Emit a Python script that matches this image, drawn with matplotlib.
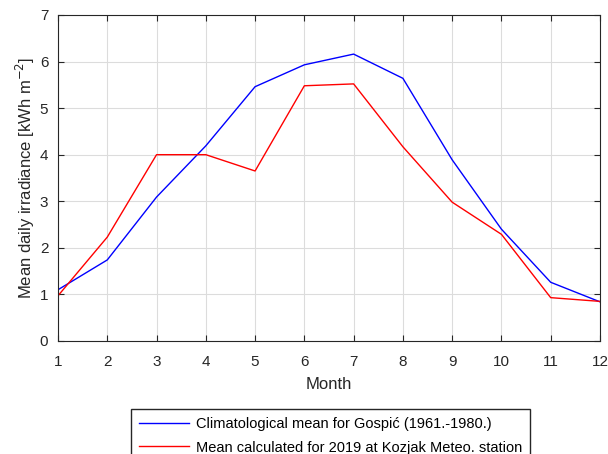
import numpy as np
import matplotlib.pyplot as plt

plt.rcParams['font.family'] = ['Liberation Sans', 'DejaVu Sans']

# monthly mean daily irradiance (kWh m^-2)
months = np.arange(1, 13)
clim_gospic = [1.10, 1.74, 3.09, 4.19, 5.46, 5.93, 6.16, 5.64, 3.89, 2.40, 1.26, 0.84]
kozjak_2019 = [0.97, 2.23, 4.00, 4.00, 3.65, 5.48, 5.52, 4.17, 2.98, 2.29, 0.93, 0.85]

lab_clim = 'Climatological mean for Gospić (1961.-1980.)'
lab_koz = 'Mean calculated for 2019 at Kozjak Meteo. station'

fig = plt.figure(figsize=(6.08, 4.54), dpi=100)
ax = fig.add_axes([0.0954, 0.249, 0.8914, 0.718])

ax.plot(months, clim_gospic, color='#0000ff', lw=1.0, label=lab_clim)
ax.plot(months, kozjak_2019, color='#ff0000', lw=1.0, label=lab_koz)

ax.set_xlim(1, 12)
ax.set_ylim(0, 7)
ax.set_xticks(months)
ax.set_yticks(range(0, 8))
ax.grid(True, color='#dcdcdc', lw=0.8)
ax.set_axisbelow(True)
ax.tick_params(direction='in', top=True, right=True, length=4,
               labelsize=11, colors='#262626')
ax.tick_params(axis='x', pad=10)
ax.tick_params(axis='y', pad=7)
for s in ax.spines.values():
    s.set_color('#262626')
    s.set_linewidth(0.8)

ax.set_xlabel('Month', fontsize=12, color='#262626', labelpad=6)
ax.set_ylabel(r'Mean daily irradiance [kWh m$^{-2}$]', fontsize=12,
              color='#262626', labelpad=2)

fig.legend(loc='upper left', bbox_to_anchor=(0.2155, 0.0991),
           bbox_transform=fig.transFigure, fontsize=10.5, frameon=True,
           fancybox=False, edgecolor='#262626', framealpha=1,
           handlelength=3.4, handletextpad=0.5, borderpad=0.55,
           labelspacing=0.65, borderaxespad=0)

fig.savefig('out.png', dpi=100, facecolor='white')
